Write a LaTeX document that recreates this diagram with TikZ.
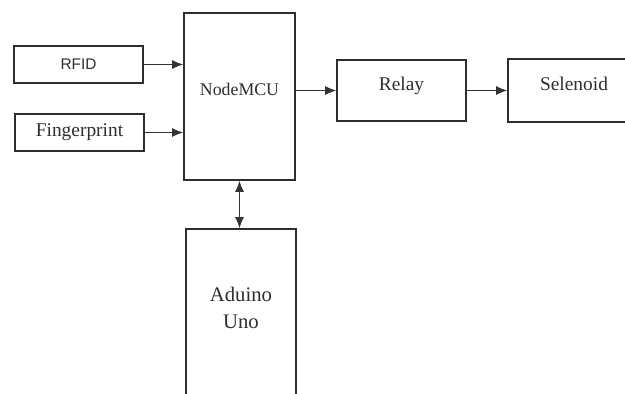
\documentclass[tikz,border=0pt]{standalone}
\usepackage{fontspec}
\setmainfont{Liberation Serif}
\newfontfamily\tagsans{Liberation Sans}
\usetikzlibrary{arrows.meta,positioning}
\definecolor{Ink}{HTML}{2E2E2E}
\definecolor{FlowInk}{HTML}{333333}
\tikzset{
  unit block/.style={draw=Ink, line width=1.7pt, fill=white, text=Ink,
    align=center, inner sep=0pt, font=\fontsize{19.4}{27}\selectfont},
  signal flow/.style={-{Latex[length=11pt,width=9pt]}, draw=FlowInk, line width=1pt},
  link flow/.style={{Latex[length=11pt,width=9pt]}-{Latex[length=11pt,width=9pt]},
    draw=FlowInk, line width=1pt},
}

\begin{document}
\begin{tikzpicture}[x=1pt, y=-1pt]
  \clip (0,0) rectangle (625,394);
  \fill[white] (0,0) rectangle (625,394);

  % inputs on the left
  \node[unit block, minimum width=129pt, minimum height=37pt,
    font=\tagsans\fontsize{15.4}{18}\selectfont] (rfid) at (78.5,64.5) {RFID};
  \node[unit block, minimum width=129pt, minimum height=37pt] (finger) at (79.5,132.5) {Fingerprint};

  % controller and outputs
  \node[unit block, minimum width=111pt, minimum height=167pt, text depth=14pt,
    font=\fontsize{17.8}{21}\selectfont] (nodemcu) at (239.5,96.5) {NodeMCU};
  \node[unit block, minimum width=129pt, minimum height=61pt, text depth=14pt] (relay) at (401.5,90.5) {Relay};
  \node[unit block, minimum width=132pt, minimum height=63pt, text depth=14pt] (selenoid) at (574,90.5) {Selenoid};
  \node[unit block, minimum width=110pt, minimum height=171pt, text depth=14pt,
    font=\fontsize{20.7}{27}\selectfont] (aduino) at (241,314.5) {Aduino\\Uno};

  \draw[signal flow] (rfid.east) -- (rfid.east -| nodemcu.west);
  \draw[signal flow] (finger.east) -- (finger.east -| nodemcu.west);
  \draw[signal flow] (relay.west -| nodemcu.east) -- (relay.west);
  \draw[signal flow] (relay.east) -- (relay.east -| selenoid.west);
  \draw[link flow] (nodemcu.south) -- (nodemcu.south |- aduino.north);
\end{tikzpicture}
\end{document}
